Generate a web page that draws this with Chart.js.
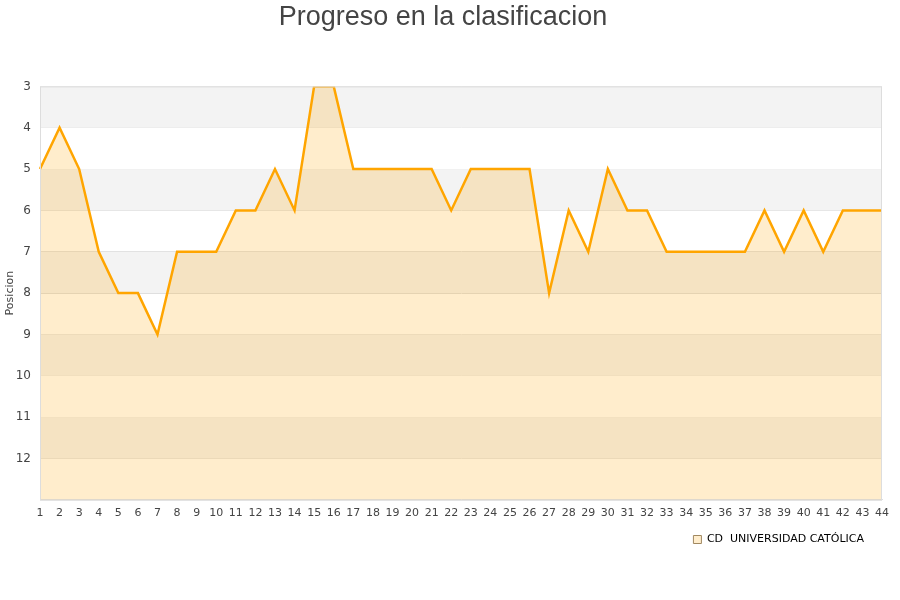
<!DOCTYPE html>
<html>
<head>
<meta charset="utf-8">
<script src="https://cdn.jsdelivr.net/npm/chart.js@4/dist/chart.umd.min.js"></script>
<style>
  html, body { margin: 0; padding: 0; background: #fff; }
  #wrap { width: 900px; height: 600px; }
</style>
</head>
<body>
<div id="wrap"><canvas id="chart_posicion"></canvas></div>
<script>
const jornadas = ['1','2','3','4','5','6','7','8','9','10','11','12','13','14','15','16','17','18','19','20','21','22',
  '23','24','25','26','27','28','29','30','31','32','33','34','35','36','37','38','39','40','41','42','43','44'];
const posiciones = [5,4,5,7,8,8,9,7,7,7,6,6,5,6,3,3,5,5,5,5,5,6,5,5,5,5,8,6,7,5,6,6,7,7,7,7,7,6,7,6,7,6,6,6];
const equipo = 'CD  UNIVERSIDAD CATÓLICA';

// franjas grises alternas detras de la grafica
const bandas = {
  id: 'bandas',
  beforeDatasetsDraw(chart) {
    const {ctx, chartArea, scales} = chart;
    const y = scales.y;
    ctx.save();
    for (let v = 3; v < 13; v += 2) {
      const top = y.getPixelForValue(v);
      const bottom = y.getPixelForValue(v + 1);
      ctx.fillStyle = '#f3f3f3';
      ctx.fillRect(chartArea.left, top, chartArea.right - chartArea.left, bottom - top);
    }
    ctx.restore();
  },
  afterDatasetsDraw(chart) {
    const {ctx, chartArea} = chart;
    ctx.save();
    ctx.strokeStyle = '#dddddd';
    ctx.lineWidth = 1;
    ctx.strokeRect(chartArea.left + 0.5, chartArea.top + 0.5, chartArea.right - chartArea.left - 1, chartArea.bottom - chartArea.top);
    ctx.restore();
  }
};

new Chart(document.getElementById('chart_posicion'), {
  type: 'line',
  data: {
    labels: jornadas,
    datasets: [{
      label: equipo,
      data: posiciones,
      borderColor: '#FFA500',
      backgroundColor: 'rgba(255,165,0,0.2)',
      borderWidth: 2.5,
      fill: { value: 13 },
      tension: 0,
      pointRadius: 0,
      pointHoverRadius: 0
    }]
  },
  options: {
    responsive: true,
    maintainAspectRatio: false,
    animation: false,
    layout: { padding: { left: 4, right: 18, top: 1, bottom: 45 } },
    plugins: {
      title: {
        display: true,
        text: 'Progreso en la clasificacion',
        color: '#444',
        font: { family: 'Liberation Sans', size: 27, weight: 'normal' },
        padding: { top: 0, bottom: 53 }
      },
      legend: {
        position: 'bottom',
        align: 'end',
        labels: {
          boxWidth: 8,
          boxHeight: 8,
          padding: 18,
          color: '#111',
          font: { family: 'DejaVu Sans', size: 11 },
          generateLabels(chart) {
            return [{
              text: equipo,
              fillStyle: 'rgba(255,165,0,0.2)',
              strokeStyle: '#a08860',
              lineWidth: 1,
              datasetIndex: 0
            }];
          }
        }
      },
      tooltip: { enabled: false }
    },
    scales: {
      x: {
        offset: false,
        afterFit: scale => { scale.height = scale.height - 11; },
        grid: { display: false, drawTicks: false },
        border: { color: '#dddddd' },
        ticks: {
          autoSkip: false,
          maxRotation: 0,
          color: '#444',
          padding: 7,
          font: { family: 'DejaVu Sans', size: 11 }
        }
      },
      y: {
        reverse: true,
        min: 3,
        max: 13,
        afterFit: scale => { scale.width = 36; },
        grid: { color: '#dddddd', drawTicks: false },
        border: { color: '#dddddd' },
        ticks: {
          stepSize: 1,
          color: '#444',
          padding: 9,
          font: { family: 'DejaVu Sans', size: 12 },
          callback: v => v === 13 ? '' : v
        },
        title: {
          display: true,
          text: 'Posicion',
          color: '#444',
          padding: 0,
          font: { family: 'DejaVu Sans', size: 11 }
        }
      }
    }
  },
  plugins: [bandas]
});
</script>
</body>
</html>
